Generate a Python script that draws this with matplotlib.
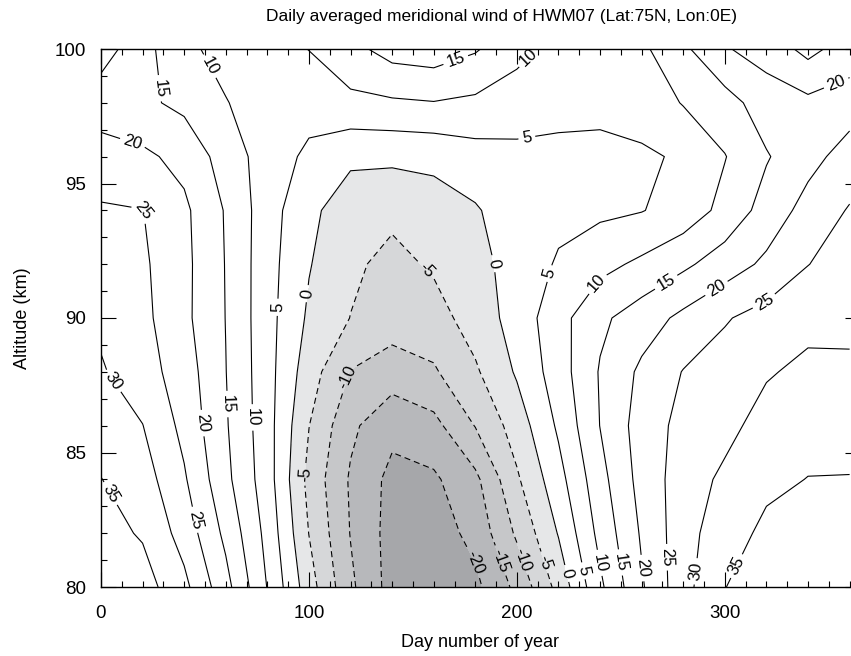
import numpy as np
import matplotlib
matplotlib.use("Agg")
import matplotlib.pyplot as plt
from matplotlib.ticker import MultipleLocator

plt.rcParams['font.family'] = ['Liberation Sans', 'DejaVu Sans']
plt.rcParams['lines.dashed_pattern'] = [5.5, 3.5]

# grid: day of year (columns) x altitude in km (rows)
days = [0, 20, 40, 60, 80, 100, 120, 140, 160, 180,
        200, 220, 240, 260, 280, 300, 320, 340, 360]
altitudes = [80, 82, 84, 86, 88, 90, 92, 94, 96, 98, 100]

# meridional wind (m/s) at each altitude, one value per day column
wind_80km = [38.0, 37.2, 31.3, 21.7, 9.8, -2.8, -14.0, -22.0, -23.0, -21.2,
             -13.75, -3.4, 9.0, 19.4, 28.3, 34.9, 37.5, 38.5, 38.0]
wind_82km = [36.8, 34.5, 28.0, 18.8, 8.5, -5.1, -15.2, -22.0, -22.5, -18.5,
             -9.2, 0.3, 11.5, 20.6, 28.0, 33.0, 36.0, 37.0, 36.5]
wind_84km = [35.1, 32.3, 25.6, 16.3, 7.3, -6.5, -15.6, -21.5, -20.8, -16.2,
             -5.7, 3.2, 13.3, 21.8, 27.5, 31.0, 34.0, 35.1, 35.2]
wind_86km = [32.7, 30.1, 23.6, 15.5, 7.0, -4.9, -14.0, -18.5, -16.5, -9.8,
             -2.7, 5.8, 15.1, 22.3, 26.5, 28.5, 32.0, 33.4, 33.0]
wind_88km = [30.5, 27.2, 22.5, 15.1, 6.9, -2.7, -10.2, -12.5, -10.6, -5.7,
             0.6, 7.6, 15.4, 21.0, 25.2, 27.0, 29.5, 31.2, 30.8]
wind_90km = [29.0, 26.3, 21.2, 14.9, 6.8, -0.8, -5.1, -7.5, -7.0, -2.8,
             2.0, 8.2, 14.0, 17.5, 21.2, 24.6, 26.8, 28.5, 28.9]
wind_92km = [27.1, 25.8, 21.3, 14.8, 6.9, 0.3, -4.0, -6.5, -4.3, -1.8,
             2.2, 5.5, 8.5, 11.0, 14.0, 17.5, 21.0, 24.9, 27.2]
wind_94km = [25.5, 25.1, 21.0, 14.6, 7.2, 1.2, -2.8, -3.8, -2.3, -0.5,
             2.8, 3.8, 4.0, 4.8, 7.0, 11.5, 17.0, 21.8, 25.4]
wind_96km = [22.3, 21.0, 18.5, 12.8, 7.6, 4.0, 1.0, 1.0, 1.3, 3.0,
             3.8, 3.8, 4.0, 4.4, 5.5, 9.8, 14.6, 18.4, 22.0]
wind_98km = [17.2, 16.0, 13.8, 10.2, 7.8, 6.9, 8.8, 9.3, 9.8, 9.0,
             7.5, 6.5, 6.0, 6.8, 10.3, 13.0, 17.5, 18.8, 17.8]
wind_100km = [22.3, 16.8, 11.0, 8.5, 7.8, 10.1, 13.5, 17.0, 17.8, 15.5,
              11.5, 8.5, 8.0, 9.0, 14.0, 19.6, 22.0, 26.5, 22.5]

levels = [-20, -15, -10, -5, 0, 5, 10, 15, 20, 25, 30, 35]
fill_levels = [-40, -20, -15, -10, -5, 0, 60]
fill_colors = ['#a6a7aa', '#b7b8bb', '#c6c7c9', '#d6d7d9', '#e6e7e8', 'white']

# where the contour labels go (day, km)
label_spots = [
    (48.4, 99.2), (23.6, 98.5), (15.5, 96.6), (21.2, 94.0), (6.7, 87.7),
    (5.1, 83.5), (45.2, 82.5), (50.0, 86.1), (60.4, 86.8), (70.0, 86.3),
    (84.5, 90.4), (99.7, 90.9), (96.5, 84.2), (118.1, 87.8), (155.8, 91.7),
    (187.8, 92.0), (204.6, 96.8), (171.0, 99.5), (207.8, 99.5),
    (213.5, 91.7), (238.3, 91.3), (272.0, 91.3), (295.2, 91.2),
    (318.4, 90.7), (353.7, 98.7),
    (179.8, 80.9), (192.6, 81.0), (202.3, 81.0), (212.6, 80.9),
    (223.9, 80.5), (231.9, 80.6), (240.0, 80.9), (248.7, 80.9),
    (260.0, 80.7), (269.6, 81.1), (284.0, 80.6), (302.4, 80.9),
]


def draw():
    wind = np.array([wind_80km, wind_82km, wind_84km, wind_86km, wind_88km,
                     wind_90km, wind_92km, wind_94km, wind_96km, wind_98km,
                     wind_100km])

    fig = plt.figure(figsize=(8.51, 6.56), dpi=100)
    ax = fig.add_axes([101 / 851, 69 / 656, 759 / 851, 538 / 656])

    ax.contourf(days, altitudes, wind, levels=fill_levels, colors=fill_colors)
    styles = ['dashed' if lv < 0 else 'solid' for lv in levels]
    cs = ax.contour(days, altitudes, wind, levels=levels, colors='black',
                    linewidths=0.8, linestyles=styles)
    ax.clabel(cs, fmt='%d', fontsize=12, inline=True, inline_spacing=4,
              manual=label_spots)

    ax.set_xlim(0, 365)
    ax.set_ylim(80, 100)
    ax.xaxis.set_major_locator(MultipleLocator(100))
    ax.xaxis.set_minor_locator(MultipleLocator(10))
    ax.yaxis.set_major_locator(MultipleLocator(5))
    ax.yaxis.set_minor_locator(MultipleLocator(1))
    ax.tick_params(which='both', direction='in', top=True, right=True, width=0.8)
    ax.tick_params(which='major', length=11, labelsize=13.5)
    ax.tick_params(axis='x', which='major', pad=13)
    ax.tick_params(axis='y', which='major', pad=11)
    ax.tick_params(which='minor', length=4.5)
    for sp in ax.spines.values():
        sp.set_linewidth(1.0)

    ax.set_xlabel('Day number of year', fontsize=13, labelpad=8.5)
    ax.set_ylabel('Altitude (km)', fontsize=13, labelpad=17)
    fig.text(502 / 851, 1 - 16 / 656,
             'Daily averaged meridional wind of HWM07 (Lat:75N, Lon:0E)',
             ha='center', va='center', fontsize=12.5)

    fig.savefig('out.png', dpi=100)


if __name__ == '__main__':
    draw()
